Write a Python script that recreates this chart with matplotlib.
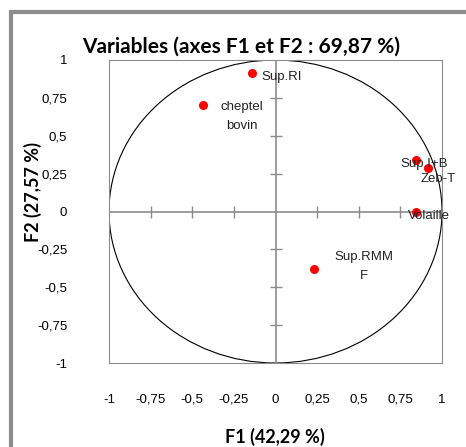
import matplotlib.pyplot as plt
from matplotlib.patches import Circle, Rectangle

# variable coordinates on F1 / F2
names = ["Sup.RI", "cheptel\nbovin", "Sup.I+B", "Zeb-T", "Volaille", "Sup.RMM\nF"]
f1 = [-0.14, -0.435, 0.845, 0.915, 0.845, 0.23]
f2 = [0.915, 0.70, 0.34, 0.285, 0.0, -0.38]
label_offsets = [(7, -3), (28, -8), (-11, -3), (-5, -8), (-6, -3), (36, 2)]

ticks = [-1, -0.75, -0.5, -0.25, 0, 0.25, 0.5, 0.75, 1]
tick_labels = ["-1", "-0,75", "-0,5", "-0,25", "0", "0,25", "0,5", "0,75", "1"]

plt.rcParams["font.family"] = ["Lato", "DejaVu Sans"]

fig = plt.figure(figsize=(4.66, 4.47), dpi=100)
ax = fig.add_axes([109 / 466, 1 - 363 / 447, 333 / 466, 303 / 447])

# outer frame of the chart area
fig.patches.append(Rectangle((11 / 466, -0.1), 1.2, 1 - 12 / 447 + 0.1,
                             transform=fig.transFigure, fill=False,
                             edgecolor="#8c8c8c", linewidth=3))

ax.set_xlim(-1, 1)
ax.set_ylim(-1, 1)
for sp in ax.spines.values():
    sp.set_color("#8c8c8c")

ax.add_patch(Circle((0, 0), 1, fill=False, edgecolor="black", linewidth=0.8))
ax.axhline(0, color="#8c8c8c", linewidth=1.2)
ax.axvline(0, color="#8c8c8c", linewidth=1.2)
inner = [t for t in ticks if abs(t) != 1 and t != 0]
ax.plot(inner, [0] * len(inner), ls="none", marker="|", ms=9, color="#8c8c8c")
ax.plot([0] * len(inner), inner, ls="none", marker="_", ms=9, color="#8c8c8c")

ax.scatter(f1, f2, s=30, color="red", zorder=3)
for x, y, name, off in zip(f1, f2, names, label_offsets):
    ax.annotate(name, (x, y), xytext=off, textcoords="offset points",
                ha="left" if "\n" not in name else "center",
                va="center", fontsize=9.5, color="#222222",
                linespacing=1.8, family=["Liberation Sans"])

ax.set_xticks(ticks)
ax.set_xticklabels(tick_labels)
ax.set_yticks(ticks)
ax.set_yticklabels(tick_labels)
ax.tick_params(axis="x", length=0, pad=22, labelsize=9.5)
ax.tick_params(axis="y", length=0, pad=30, labelsize=9.5)
for lab in ax.get_xticklabels() + ax.get_yticklabels():
    lab.set_family(["Liberation Sans"])

fig.text(241 / 466, 1 - 47 / 447, "Variables (axes F1 et F2 : 69,87 %)",
         ha="center", va="center", fontsize=15, fontweight="bold")
fig.text(275 / 466, 1 - 437 / 447, "F1 (42,29 %)", ha="center", va="center",
         fontsize=13, fontweight="bold")
fig.text(33 / 466, 1 - 192 / 447, "F2 (27,57 %)", ha="center", va="center",
         rotation=90, fontsize=13, fontweight="bold")

fig.savefig("out.png", dpi=100)
